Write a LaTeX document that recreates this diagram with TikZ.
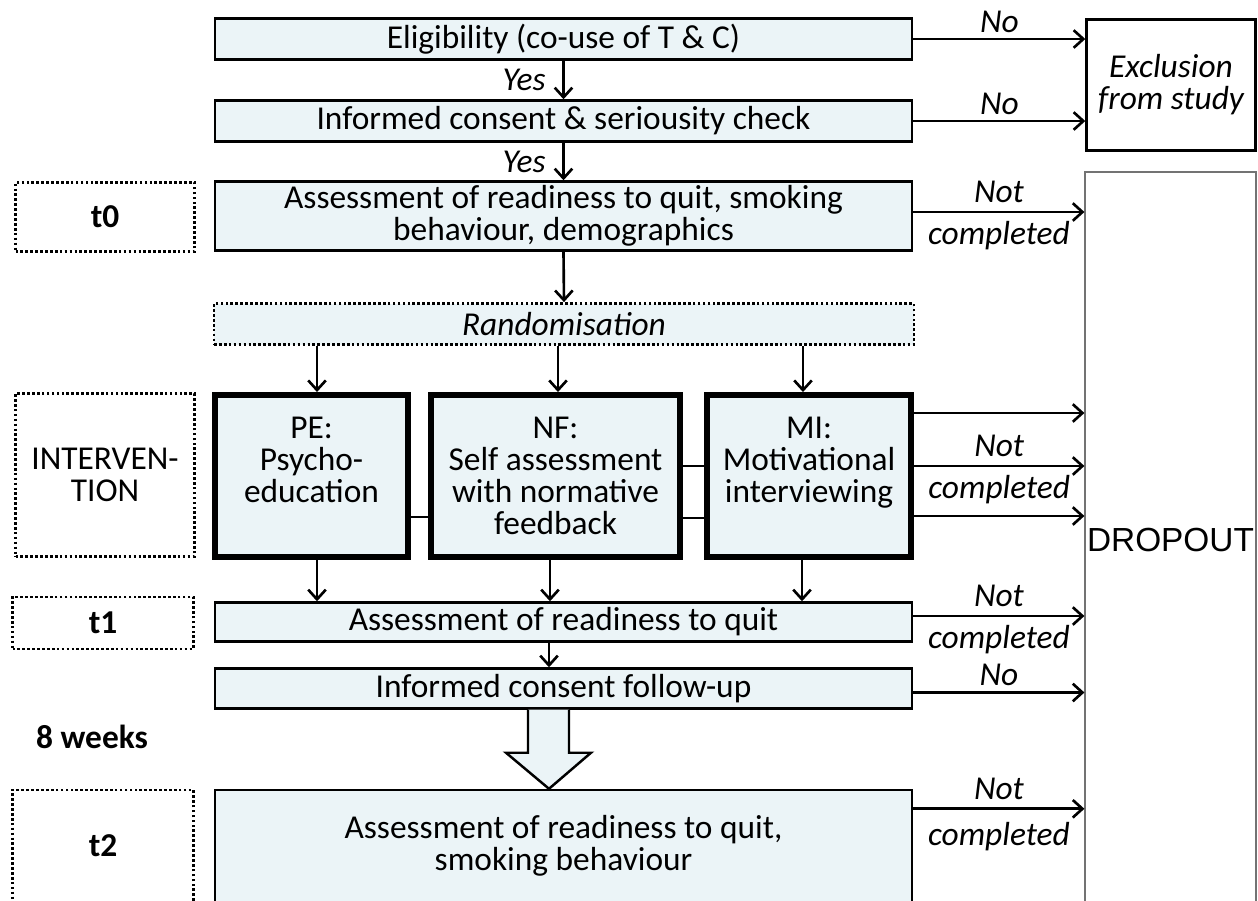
\documentclass[tikz,border=0pt]{standalone}
\usepackage{fontspec}
\setmainfont{Carlito}
\newfontfamily\arialf{Liberation Sans}
\usetikzlibrary{calc,arrows.meta}
\definecolor{boxfill}{RGB}{235,244,247}
\begin{document}
\begin{tikzpicture}[x=0.02cm,y=-0.02cm,
  txt/.style={font=\fontsize{19}{18.3}\selectfont},
  mainbox/.style={txt, draw, line width=1.4pt, fill=boxfill, minimum width=13.95cm, align=center, inner sep=0pt},
  ibox/.style={txt, draw, line width=3.4pt, fill=boxfill, minimum height=3.24cm, align=center, inner sep=0pt},
  dotbox/.style={draw, line width=1.6pt, dash pattern={on 1.5pt off 1.3pt}, align=center, inner sep=0pt},
  arr/.style={line width=1.5pt, -{Straight Barb[length=5.5pt,width=10pt,line width=1.5pt]}},
  conn/.style={line width=1.5pt},
  lab/.style={font=\fontsize{19}{18.3}\selectfont\itshape, inner sep=4.5pt},
  boldlab/.style={font=\fontsize{19}{18.3}\selectfont\bfseries},
]
\clip (0,0) rectangle (1258,900);
\fill[white] (0,0) rectangle (1258,900);

% right side boxes
\node[draw, line width=1.4pt, minimum width=3.38cm, minimum height=2.62cm, align=center, font=\fontsize{19}{18.3}\selectfont\itshape, inner sep=0pt] (excl) at (1171,85) {Exclusion\\from study};
\node[draw=black!55, line width=0.7pt, minimum width=3.42cm, minimum height=14.72cm, inner sep=0pt, font=\arialf\fontsize{19}{19}\selectfont] (drop) at (1170.5,540) {DROPOUT};

% main column
\node[mainbox, minimum height=0.82cm] (elig) at (563.5,39) {Eligibility (co-use of T \& C)};
\node[mainbox, minimum height=0.82cm] (cons) at (563.5,121) {Informed consent \& seriousity check};
\node[mainbox, minimum height=1.38cm] (t0box) at (563.5,216) {Assessment of readiness to quit, smoking\\behaviour, demographics};
\node[dotbox, fill=boxfill, minimum width=14.0cm, minimum height=0.82cm, font=\fontsize{19}{18.3}\selectfont\itshape] (rand) at (564,324) {Randomisation};
\node[ibox, minimum width=3.86cm] (pe) at (311.5,476) {PE:\\Psycho-\\education\\\mbox{}};
\node[ibox, minimum width=4.98cm] (nf) at (555.5,476) {NF:\\Self assessment\\with normative\\feedback};
\node[ibox, minimum width=4.08cm] (mi) at (809,476) {MI:\\Motivational\\interviewing\\\mbox{}};
\node[mainbox, minimum height=0.78cm] (t1box) at (563.5,622) {Assessment of readiness to quit};
\node[mainbox, minimum height=0.8cm] (fu) at (563.5,688.5) {Informed consent follow-up};
\node[mainbox, minimum height=2.24cm] (t2box) at (563.5,846) {Assessment of readiness to quit,\\smoking behaviour};

% left labels
\node[dotbox, minimum width=3.58cm, minimum height=1.38cm, boldlab] (t0lab) at (105,217) {t0};
\node[dotbox, minimum width=3.58cm, minimum height=3.26cm, txt] (intlab) at (105,475) {INTERVEN-\\TION};
\node[dotbox, minimum width=3.62cm, minimum height=1.04cm, boldlab] (t1lab) at (103,623) {t1};
\node[boldlab] (wk) at (92,737) {8 weeks};
\node[dotbox, minimum width=3.62cm, minimum height=2.24cm, boldlab] (t2lab) at (103,846) {t2};

% block arrow
\coordinate (ba) at ($(fu.south)+(-14.5,0)$);
\draw[line width=1.4pt, fill=boxfill] ($(ba)+(-21,0)$) -- ($(ba)+(-21,43)$) -- ($(ba)+(-43,43)$) -- (ba |- t2box.north) -- ($(ba)+(42,43)$) -- ($(ba)+(20,43)$) -- ($(ba)+(20,0)$);

% vertical arrows
\draw[arr] (elig.south) -- node[lab, left=5pt]{Yes} (cons.north);
\draw[arr] (cons.south) -- node[lab, left=5pt]{Yes} (t0box.north);
\draw[arr] (t0box.south) -- (rand.north);
\coordinate (pein) at ($(pe.north)+(5.5,0)$);
\coordinate (nfin) at ($(nf.north)+(2.5,0)$);
\coordinate (miin) at ($(mi.north)+(-6,0)$);
\draw[arr] (pein |- rand.south) -- (pein);
\draw[arr] (nfin |- rand.south) -- (nfin);
\draw[arr] (miin |- rand.south) -- (miin);
\coordinate (peout) at ($(pe.south)+(5.5,0)$);
\coordinate (nfout) at ($(nf.south)+(-5.5,0)$);
\coordinate (miout) at ($(mi.south)+(-7,0)$);
\draw[arr] (peout) -- (peout |- t1box.north);
\draw[arr] (nfout) -- (nfout |- t1box.north);
\draw[arr] (miout) -- (miout |- t1box.north);
\coordinate (t1out) at ($(t1box.south)+(-14.5,0)$);
\draw[arr] (t1out) -- (t1out |- fu.north);

% connectors between interventions
\draw[conn] ($(pe.east)+(0,41)$) -- ($(nf.west)+(0,41)$);
\draw[conn] ($(nf.east)+(0,-10)$) -- ($(mi.west)+(0,-10)$);
\draw[conn] ($(nf.east)+(0,42)$) -- ($(mi.west)+(0,42)$);

% exits to the right
\draw[arr] (elig.east) -- (elig.east -| excl.west) node[lab, midway, above, inner sep=3pt]{No};
\draw[arr] (cons.east) -- (cons.east -| excl.west) node[lab, midway, above, inner sep=3pt]{No};
\coordinate (t0o) at ($(t0box.east)+(0,-4)$);
\draw[arr] (t0o) -- (t0o -| drop.west) node[lab, midway, above]{Not} node[lab, midway, below]{completed};
\coordinate (mo1) at ($(mi.east)+(0,-63)$);
\coordinate (mo2) at ($(mi.east)+(0,-10)$);
\coordinate (mo3) at ($(mi.east)+(0,40)$);
\draw[arr] (mo1) -- (mo1 -| drop.west);
\draw[arr] (mo2) -- (mo2 -| drop.west) node[lab, midway, above]{Not} node[lab, midway, below]{completed};
\draw[arr] (mo3) -- (mo3 -| drop.west);
\coordinate (t1o) at ($(t1box.east)+(0,-6)$);
\draw[arr] (t1o) -- (t1o -| drop.west) node[lab, midway, above]{Not} node[lab, midway, below]{completed};
\coordinate (fuo) at ($(fu.east)+(0,4)$);
\draw[arr] (fuo) -- (fuo -| drop.west) node[lab, midway, above, inner sep=3pt]{No};
\coordinate (t2o) at ($(t2box.north east)+(0,20)$);
\draw[arr] (t2o) -- (t2o -| drop.west) node[lab, midway, above]{Not} node[lab, midway, below=2.3pt]{completed};
\end{tikzpicture}
\end{document}
